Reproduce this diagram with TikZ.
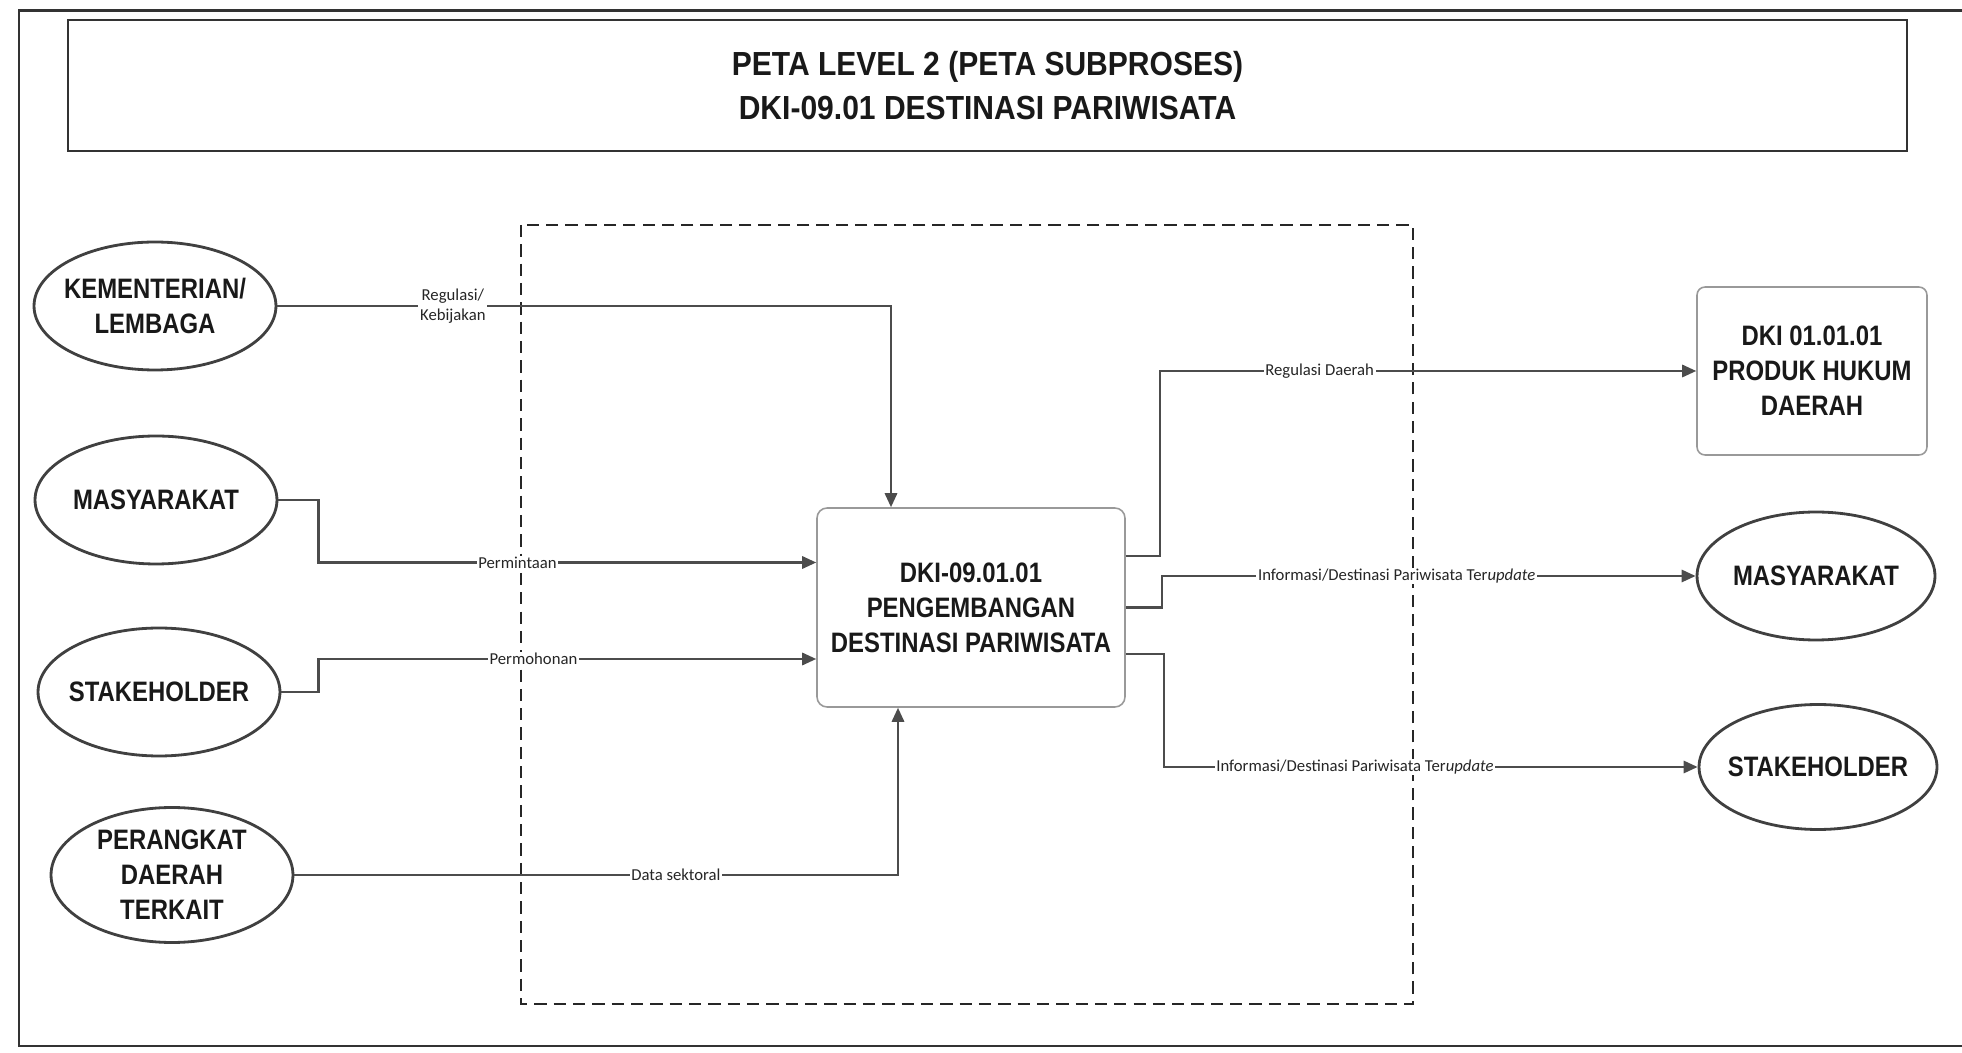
\documentclass[tikz,border=0pt]{standalone}
\usepackage{fontspec}
\setmainfont{Liberation Sans}
\newfontfamily\boxfont{Liberation Sans}[FakeStretch=0.85]
\newfontfamily\titlefont{Liberation Sans}[FakeStretch=0.9]
\newfontfamily\flowfont{Carlito}
\usetikzlibrary{arrows.meta,shapes.geometric}

\tikzset{
  actor/.style={ellipse, draw=black!75, line width=1.6pt, fill=white,
    minimum width=4.84cm, minimum height=2.56cm, inner xsep=-0.8cm, inner ysep=-0.5cm,
    align=center, font=\boxfont\bfseries\fontsize{16}{20}\selectfont, text=black!90},
  procbox/.style={rectangle, rounded corners=0.2cm, draw=black!40, line width=0.9pt,
    align=center, font=\boxfont\bfseries\fontsize{16}{20}\selectfont, text=black!90},
  flow/.style={draw=black!70, line width=1.3pt, -{Triangle[length=8pt,width=7pt]}},
  flowlabel/.style={fill=white, inner xsep=1pt, inner ysep=0.5pt, align=center,
    font=\flowfont\fontsize{9.5}{11}\selectfont, text=black!85},
}

\begin{document}
\begin{tikzpicture}[x=0.02cm, y=-0.02cm]
  \useasboundingbox (0,0) rectangle (1962,1053);

  % page frame and title
  \draw[black!80, line width=1.7pt] (1962,11) -- (19,11) -- (19,1046) -- (1962,1046);
  \node[draw=black!80, line width=1.1pt, minimum width=36.78cm, minimum height=2.62cm,
    align=center, font=\titlefont\bfseries\fontsize{19}{25}\selectfont, text=black!90]
    (title) at (987.5,85.5) {PETA LEVEL 2 (PETA SUBPROSES)\\DKI-09.01 DESTINASI PARIWISATA};

  % boundary of the subprocess
  \draw[black!85, line width=1.1pt, dash pattern=on 7pt off 4pt] (521,225) rectangle (1413,1004);

  % suppliers
  \node[actor] (kl) at (155,306) {KEMENTERIAN/\\LEMBAGA};
  \node[actor] (masy) at (156,500) {MASYARAKAT};
  \node[actor] (stake) at (159,692) {STAKEHOLDER};
  \node[actor, minimum height=2.7cm] (pd) at (172,875) {PERANGKAT\\DAERAH\\TERKAIT};

  % process
  \node[procbox, minimum width=6.16cm, minimum height=3.98cm] (proc) at (971,607.5)
    {DKI-09.01.01\\PENGEMBANGAN\\DESTINASI PARIWISATA};

  % customers
  \node[procbox, rounded corners=0.16cm, minimum width=4.6cm, minimum height=3.36cm] (hukum) at (1812,371)
    {DKI 01.01.01\\PRODUK HUKUM\\DAERAH};
  \node[actor, minimum width=4.76cm] (masyout) at (1816,576) {MASYARAKAT};
  \node[actor, minimum width=4.76cm, minimum height=2.5cm] (stakeout) at (1818,767) {STAKEHOLDER};

  % inputs
  \draw[flow] (kl.east) -| node[flowlabel, pos=0.143] (lkeb) {Regulasi/\\Kebijakan}
    ([shift={(-80,0)}]proc.north);
  \draw[flow] (masy.east) -- ++(40,0) |- node[flowlabel, pos=0.7] (lminta) {Permintaan}
    ([shift={(0,-45)}]proc.west);
  \draw[flow] (stake.east) -- ++(37,0) |- node[flowlabel, pos=0.716] (lmohon) {Permohonan}
    ([shift={(0,51.5)}]proc.west);
  \draw[flow] (pd.east) -| node[flowlabel, pos=0.316] (ldata) {Data sektoral}
    ([shift={(-73,0)}]proc.south);

  % outputs
  \draw[flow] ([shift={(0,-51.5)}]proc.east) -- ++(34,0) |- node[flowlabel, pos=0.649] (lreg) {Regulasi Daerah}
    (hukum.west);
  \draw[flow] (proc.east) -- ++(36,0) |- node[flowlabel, pos=0.72] (linfo) {Informasi/Destinasi Pariwisata Ter\textit{update}}
    (masyout.west);
  \draw[flow] ([shift={(0,46.5)}]proc.east) -- ++(38,0) |- node[flowlabel, pos=0.679] (linfo2) {Informasi/Destinasi Pariwisata Ter\textit{update}}
    (stakeout.west);
\end{tikzpicture}
\end{document}
